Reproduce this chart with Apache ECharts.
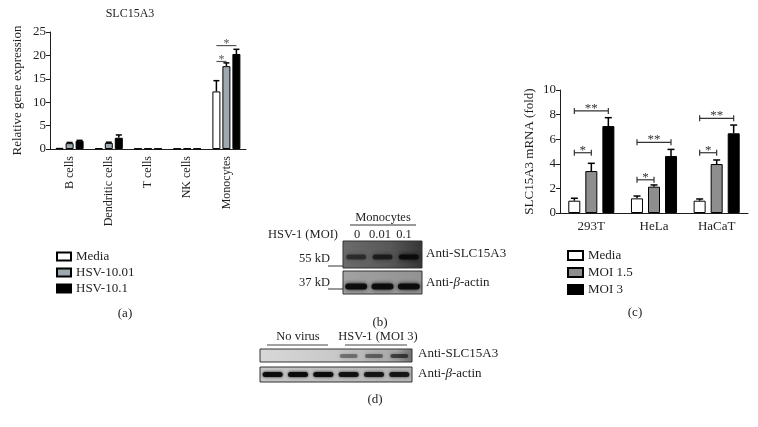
<!DOCTYPE html>
<html>
<head>
<meta charset="utf-8">
<script src="https://cdn.jsdelivr.net/npm/echarts@6/dist/echarts.min.js"></script>
<style>
  html, body { margin: 0; padding: 0; background: #fff; }
  #chart { width: 758px; height: 427px; }
</style>
</head>
<body>
<div id="chart"></div>
<script>
// (a) SLC15A3 in immune cells
const cellTypes = ['B cells', 'Dendritic cells', 'T cells', 'NK cells', 'Monocytes']
const mediaA = [0.25, 0.2, 0.1, 0.1, 12.3]
const hsv001A = [1.25, 1.3, 0.12, 0.15, 17.7]
const hsv01A = [1.75, 2.4, 0.1, 0.1, 20.3]
const mediaAErr = [0, 0, 0, 0, 2.3]
const hsv001AErr = [0.15, 0.15, 0, 0, 0.7]
const hsv01AErr = [0.1, 0.6, 0, 0, 1.0]
// [category, from bar, to bar, y]
const sigA = [[4, 0, 1, 18.7], [4, 0, 2, 22.1]]
const sigALabels = ['*', '*']
const ticksA = [0, 5, 10, 15, 20, 25]

// (c) SLC15A3 mRNA in cell lines
const cellLines = ['293T', 'HeLa', 'HaCaT']
const mediaC = [1.0, 1.19, 1.0]
const moi15C = [3.41, 2.14, 3.98]
const moi3C = [7.07, 4.63, 6.48]
const mediaCErr = [0.2, 0.19, 0.14]
const moi15CErr = [0.63, 0.14, 0.33]
const moi3CErr = [0.68, 0.54, 0.67]
const sigC = [[0, 0, 1, 4.9], [0, 0, 2, 8.3], [1, 0, 1, 2.7], [1, 0, 2, 5.75], [2, 0, 1, 4.9], [2, 0, 2, 7.7]]
const sigCLabels = ['*', '**', '*', '**', '*', '**']
const ticksC = [0, 2, 4, 6, 8, 10]

// blot band intensities (0..1)
const blotB55 = [0.55, 0.7, 0.95]
const blotB37 = [0.95, 0.95, 0.95]
const blotD55 = [0, 0, 0, 0.4, 0.45, 0.6]
const blotDActin = [0.95, 0.95, 0.95, 0.9, 0.85, 0.85]

const SERIF = '"Liberation Serif", "DejaVu Serif", serif'
const INK = '#1e1e1e'

const chart = echarts.init(document.getElementById('chart'))

function withErr(vals, errs) {
  return vals.map((v, i) => [i, v, errs[i]])
}

function errSeries(data, off, hw, xi) {
  return {
    type: 'custom',
    xAxisIndex: xi,
    yAxisIndex: xi,
    data: data,
    z: 5,
    renderItem(params, api) {
      if (!api.value(2)) return
      const p = api.coord([api.value(0), api.value(1)])
      const t = api.coord([api.value(0), api.value(1) + api.value(2)])
      const x = p[0] + off
      return {
        type: 'group',
        children: [
          { type: 'line', shape: { x1: x, y1: p[1], x2: x, y2: t[1] }, style: { stroke: '#000', lineWidth: 1.5 } },
          { type: 'line', shape: { x1: x - hw, y1: t[1], x2: x + hw, y2: t[1] }, style: { stroke: '#000', lineWidth: 1.5 } }
        ]
      }
    }
  }
}

function sigSeries(data, labels, step, ends, xi, color, fs) {
  return {
    type: 'custom',
    xAxisIndex: xi,
    yAxisIndex: xi,
    data: data,
    z: 6,
    renderItem(params, api) {
      const p = api.coord([api.value(0), api.value(3)])
      const x1 = p[0] + (api.value(1) - 1) * step
      const x2 = p[0] + (api.value(2) - 1) * step
      const y = p[1]
      const kids = [
        { type: 'line', shape: { x1: x1, y1: y, x2: x2, y2: y }, style: { stroke: color, lineWidth: 1.2 } },
        { type: 'text', style: { text: labels[params.dataIndex], x: (x1 + x2) / 2, y: y + 4, align: 'center', verticalAlign: 'bottom', font: fs + 'px ' + SERIF, fill: color } }
      ]
      if (ends) {
        kids.push({ type: 'line', shape: { x1: x1, y1: y - 3, x2: x1, y2: y + 3 }, style: { stroke: color, lineWidth: 1.2 } })
        kids.push({ type: 'line', shape: { x1: x2, y1: y - 3, x2: x2, y2: y + 3 }, style: { stroke: color, lineWidth: 1.2 } })
      }
      return { type: 'group', children: kids }
    }
  }
}

function text(str, x, y, size, align, rich) {
  const style = { text: str, x: x, y: y, align: align || 'left', verticalAlign: 'middle', font: size + 'px ' + SERIF, fill: INK }
  if (rich) style.rich = rich
  return { type: 'text', style: style }
}

function blot(x, y, w, h, stops, bands, bw, bh, by, blur) {
  const lane = w / bands.length
  const kids = [{
    type: 'rect',
    shape: { x: x, y: y, width: w, height: h },
    style: { fill: { type: 'linear', x: 0, y: 0, x2: 1, y2: 0, colorStops: stops }, stroke: '#333', lineWidth: 1 }
  }]
  bands.forEach((a, i) => {
    if (!a) return
    const cx = x + lane * (i + 0.5)
    kids.push({
      type: 'rect',
      shape: { x: cx - bw / 2, y: y + by - bh / 2, width: bw, height: bh, r: bh / 2 },
      style: { fill: 'rgba(10,10,10,' + a + ')', shadowBlur: blur, shadowColor: 'rgba(10,10,10,' + a + ')' }
    })
  })
  return { type: 'group', children: kids }
}

const axisCommon = {
  axisLine: { lineStyle: { color: INK, width: 1 } },
  axisTick: { length: 4, lineStyle: { color: INK } },
  splitLine: { show: false }
}

const italicRich = {
  i: { fontStyle: 'italic', fontSize: 13, fontFamily: SERIF, fill: INK, color: INK }
}

chart.setOption({
  animation: false,
  textStyle: { fontFamily: SERIF },
  grid: [
    { left: 50, top: 32, width: 196, height: 117 },
    { left: 560, top: 90, width: 188, height: 123 }
  ],
  xAxis: [
    Object.assign({}, axisCommon, {
      type: 'category', gridIndex: 0, data: cellTypes,
      axisTick: { alignWithLabel: true, length: 4, lineStyle: { color: INK } },
      axisLabel: { rotate: 90, fontSize: 12, color: INK, margin: 7, fontFamily: SERIF }
    }),
    Object.assign({}, axisCommon, {
      type: 'category', gridIndex: 1, data: cellLines,
      axisTick: { alignWithLabel: true, length: 4, lineStyle: { color: INK } },
      axisLabel: { fontSize: 13, color: INK, margin: 7, fontFamily: SERIF }
    })
  ],
  yAxis: [
    Object.assign({}, axisCommon, {
      type: 'value', gridIndex: 0, min: ticksA[0], max: ticksA[ticksA.length - 1], interval: 5,
      axisLine: { show: true, lineStyle: { color: INK } },
      axisTick: { show: true, length: 4, lineStyle: { color: INK } },
      axisLabel: { fontSize: 13, color: INK, margin: 4, fontFamily: SERIF },
      name: 'Relative gene expression', nameLocation: 'middle', nameGap: 26,
      nameTextStyle: { fontSize: 13, color: INK, fontFamily: SERIF }
    }),
    Object.assign({}, axisCommon, {
      type: 'value', gridIndex: 1, min: ticksC[0], max: ticksC[ticksC.length - 1], interval: 2,
      axisLine: { show: true, lineStyle: { color: INK } },
      axisTick: { show: true, length: 4, lineStyle: { color: INK } },
      axisLabel: { fontSize: 13, color: INK, margin: 4, fontFamily: SERIF },
      name: 'SLC15A3 mRNA (fold)', nameLocation: 'middle', nameGap: 24,
      nameTextStyle: { fontSize: 13, color: INK, fontFamily: SERIF }
    })
  ],
  legend: [
    {
      data: ['Media', 'HSV-10.01', 'HSV-10.1'], orient: 'vertical', left: 51, top: 245,
      icon: 'rect', itemWidth: 14, itemHeight: 8, itemGap: 3,
      textStyle: { fontSize: 13, color: INK, fontFamily: SERIF }, selectedMode: false
    },
    {
      data: ['Media', 'MOI 1.5', 'MOI 3'], orient: 'vertical', left: 562, top: 244,
      icon: 'rect', itemWidth: 15, itemHeight: 9, itemGap: 4,
      textStyle: { fontSize: 13, color: INK, fontFamily: SERIF }, selectedMode: false
    }
  ],
  series: [
    { name: 'Media', type: 'bar', xAxisIndex: 0, yAxisIndex: 0, data: mediaA, barWidth: 8, barGap: '25%',
      itemStyle: { color: '#fff', borderColor: '#000', borderWidth: 1 } },
    { name: 'HSV-10.01', type: 'bar', xAxisIndex: 0, yAxisIndex: 0, data: hsv001A, barWidth: 8, barGap: '25%',
      itemStyle: { color: '#9ea9ad', borderColor: '#000', borderWidth: 1 } },
    { name: 'HSV-10.1', type: 'bar', xAxisIndex: 0, yAxisIndex: 0, data: hsv01A, barWidth: 8, barGap: '25%',
      itemStyle: { color: '#000', borderColor: '#000', borderWidth: 1 } },
    errSeries(withErr(mediaA, mediaAErr), -10, 3, 0),
    errSeries(withErr(hsv001A, hsv001AErr), 0, 3, 0),
    errSeries(withErr(hsv01A, hsv01AErr), 10, 3, 0),
    sigSeries(sigA, sigALabels, 10, false, 0, '#555', 12),

    { name: 'Media', type: 'bar', xAxisIndex: 1, yAxisIndex: 1, data: mediaC, barWidth: 12, barGap: '42%',
      itemStyle: { color: '#fff', borderColor: '#000', borderWidth: 1 } },
    { name: 'MOI 1.5', type: 'bar', xAxisIndex: 1, yAxisIndex: 1, data: moi15C, barWidth: 12, barGap: '42%',
      itemStyle: { color: '#8e8e8e', borderColor: '#000', borderWidth: 1 } },
    { name: 'MOI 3', type: 'bar', xAxisIndex: 1, yAxisIndex: 1, data: moi3C, barWidth: 12, barGap: '42%',
      itemStyle: { color: '#000', borderColor: '#000', borderWidth: 1 } },
    errSeries(withErr(mediaC, mediaCErr), -17, 3.5, 1),
    errSeries(withErr(moi15C, moi15CErr), 0, 3.5, 1),
    errSeries(withErr(moi3C, moi3CErr), 17, 3.5, 1),
    sigSeries(sigC, sigCLabels, 17, true, 1, '#333', 13)
  ],
  graphic: [
    text('SLC15A3', 130, 14, 12, 'center'),
    text('(a)', 125, 314, 13, 'center'),
    text('(b)', 380, 323, 13, 'center'),
    text('(c)', 635, 313, 13, 'center'),
    text('(d)', 375, 400, 13, 'center'),

    // (b) blot
    text('Monocytes', 383, 218, 12.5, 'center'),
    { type: 'line', shape: { x1: 350, y1: 225, x2: 416, y2: 225 }, style: { stroke: '#333', lineWidth: 1 } },
    text('HSV-1 (MOI)', 338, 235, 12.5, 'right'),
    text('0', 357, 235, 12.5, 'center'),
    text('0.01', 380, 235, 12.5, 'center'),
    text('0.1', 404, 235, 12.5, 'center'),
    blot(343, 241, 79, 27, [{ offset: 0, color: '#6c6c6c' }, { offset: 0.6, color: '#575757' }, { offset: 1, color: '#353535' }], blotB55, 20, 5, 16, 5),
    blot(343, 271, 79, 23, [{ offset: 0, color: '#a2a2a2' }, { offset: 1, color: '#929292' }], blotB37, 22, 6, 15.5, 4),
    text('55 kD', 330, 259, 12.5, 'right'),
    { type: 'line', shape: { x1: 328, y1: 266, x2: 343, y2: 266 }, style: { stroke: '#333', lineWidth: 1 } },
    text('37 kD', 330, 283, 12.5, 'right'),
    { type: 'line', shape: { x1: 328, y1: 289, x2: 343, y2: 289 }, style: { stroke: '#333', lineWidth: 1 } },
    text('Anti-SLC15A3', 426, 254, 13, 'left'),
    text('Anti-{i|β}-actin', 426, 283, 13, 'left', italicRich),

    // (d) blot
    text('No virus', 298, 337, 12.5, 'center'),
    { type: 'line', shape: { x1: 267, y1: 345, x2: 328, y2: 345 }, style: { stroke: '#444', lineWidth: 1 } },
    text('HSV-1 (MOI 3)', 378, 337, 12.5, 'center'),
    { type: 'line', shape: { x1: 345, y1: 345, x2: 407, y2: 345 }, style: { stroke: '#444', lineWidth: 1 } },
    blot(260, 349, 152, 13, [{ offset: 0, color: '#d8d8d8' }, { offset: 0.5, color: '#c8c8c8' }, { offset: 0.9, color: '#a6a6a6' }, { offset: 1, color: '#6e6e6e' }], blotD55, 18, 4, 7, 4),
    blot(260, 367, 152, 15, [{ offset: 0, color: '#c6c6c6' }, { offset: 1, color: '#b4b4b4' }], blotDActin, 20, 5, 7.5, 3),
    text('Anti-SLC15A3', 418, 354, 13, 'left'),
    text('Anti-{i|β}-actin', 418, 374, 13, 'left', italicRich)
  ]
})
</script>
</body>
</html>
